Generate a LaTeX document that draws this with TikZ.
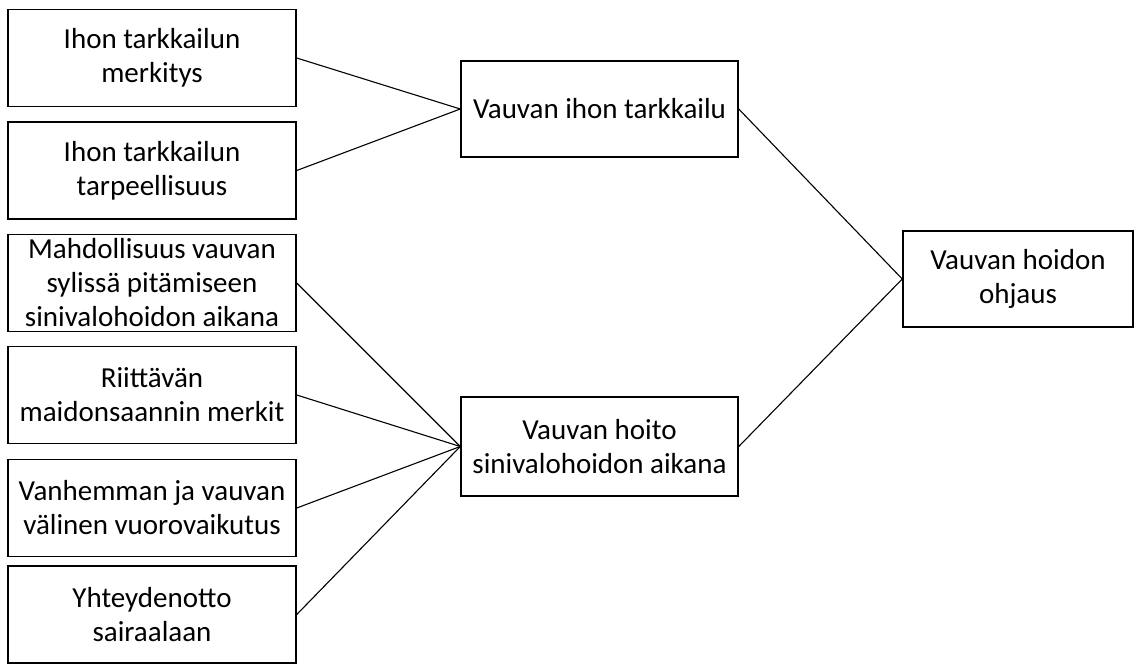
\documentclass[tikz,border=0pt]{standalone}
\usepackage{fontspec}
\setmainfont{Carlito}
\begin{document}
\begin{tikzpicture}[x=1pt,y=-1pt,
  box/.style={draw=black,line width=1.5pt,rectangle,align=center,inner sep=2pt,
    font=\fontsize{29}{34}\selectfont},
  lbox/.style={box,minimum width=288pt,minimum height=97pt},
  conn/.style={draw=black,line width=1.1pt}]
\useasboundingbox[fill=white] (0,0) rectangle (1140,664);
\node[lbox] (a1) at (152,58) {Ihon tarkkailun\\merkitys};
\node[lbox] (a2) at (152,170.5) {Ihon tarkkailun\\tarpeellisuus};
\node[lbox] (a3) at (152,283) {Mahdollisuus vauvan\\sylissä pitämiseen\\sinivalohoidon aikana};
\node[lbox] (a4) at (152,395) {Riittävän\\maidonsaannin merkit};
\node[lbox] (a5) at (152,508) {Vanhemman ja vauvan\\välinen vuorovaikutus};
\node[lbox] (a6) at (152,614.5) {Yhteydenotto\\sairaalaan};
\node[box,minimum width=277pt,minimum height=96pt] (m1) at (599.5,109) {Vauvan ihon tarkkailu};
\node[box,minimum width=277pt,minimum height=99pt] (m2) at (599.5,446.5) {Vauvan hoito\\sinivalohoidon aikana};
\node[box,minimum width=230pt,minimum height=96pt] (r) at (1018,279) {Vauvan hoidon\\ohjaus};
\draw[conn] (a1.east) -- (m1.west);
\draw[conn] (a2.east) -- (m1.west);
\draw[conn] (a3.east) -- (m2.west);
\draw[conn] (a4.east) -- (m2.west);
\draw[conn] (a5.east) -- (m2.west);
\draw[conn] (a6.east) -- (m2.west);
\draw[conn] (m1.east) -- (r.west);
\draw[conn] (m2.east) -- (r.west);
\end{tikzpicture}
\end{document}
